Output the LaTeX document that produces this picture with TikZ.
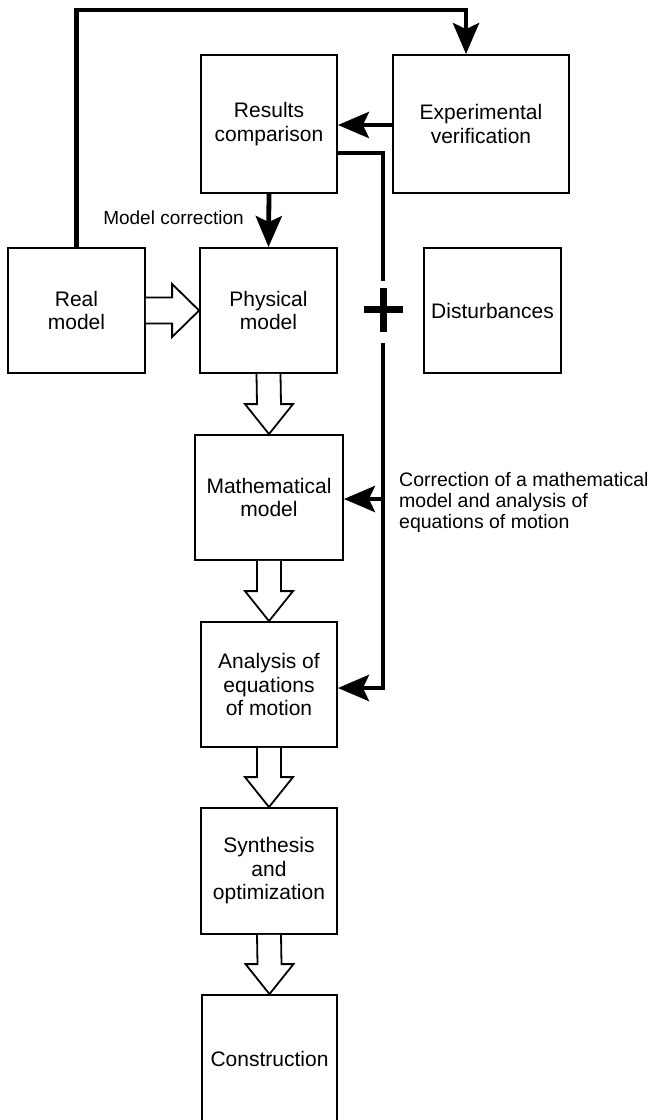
\documentclass[tikz,border=0pt]{standalone}
\usepackage{fontspec}
\setmainfont{Liberation Sans}
\usetikzlibrary{arrows.meta,calc}
\newcommand\boxfont{\fontsize{21}{23.5}\selectfont}
\newcommand\hollowdown[2]{\draw[hollow] ($(#1.south)+(-12,0)$) -- ($(#2.north)+(-12,-30)$) -- ($(#2.north)+(-24,-30)$) -- (#2.north) -- ($(#2.north)+(24,-30)$) -- ($(#2.north)+(12,-30)$) -- ($(#1.south)+(12,0)$);}
\newcommand\hollowright[2]{\draw[hollow] ($(#1.east)+(0,-13)$) -- ($(#2.west)+(-27,-13)$) -- ($(#2.west)+(-27,-26.5)$) -- (#2.west) -- ($(#2.west)+(-27,26.5)$) -- ($(#2.west)+(-27,13)$) -- ($(#1.east)+(0,13)$);}
\begin{document}
\begin{tikzpicture}[x=1pt,y=-1pt,
  box/.style={draw, line width=1.8pt, align=center, font=\boxfont, inner sep=0pt},
  conn/.style={line width=4.8pt, line join=miter},
  tip/.style={-{Stealth[length=31pt,width=26pt,inset=6pt]}},
  hollow/.style={draw, line width=1.8pt, fill=white, line join=miter},
  lbl/.style={font=\fontsize{19.5}{21}\selectfont, align=left, inner sep=0pt}]
\useasboundingbox (0,0) rectangle (651,1120);
% boxes
\node[box, minimum width=136pt, minimum height=138pt] (res) at (269,124) {Results\\comparison};
\node[box, minimum width=176pt, minimum height=138pt] (exp) at (481,124) {Experimental\\verification};
\node[box, minimum width=137pt, minimum height=125pt] (real) at (76.5,310.5) {Real\\model};
\node[box, minimum width=137pt, minimum height=125pt] (phys) at (268.5,310.5) {Physical\\model};
\node[box, minimum width=137pt, minimum height=125pt] (dist) at (492.5,310.5) {Disturbances};
\node[box, minimum width=148pt, minimum height=125pt] (math) at (269,497.5) {Mathematical\\model};
\node[box, minimum width=136pt, minimum height=125pt] (ana) at (269,684.5) {Analysis of\\equations\\of motion};
\node[box, minimum width=136pt, minimum height=126pt] (syn) at (269,871) {Synthesis\\and\\optimization};
\node[box, minimum width=135pt, minimum height=128pt] (con) at (269.5,1059) {Construction};
% labels
\node[lbl, font=\fontsize{19}{21}\selectfont] (mc) at (173.5,218) {Model correction};
\node[lbl, anchor=west] (cm) at (399,502) {Correction of a mathematical\\model and analysis of\\equations of motion};
% coordinates
\coordinate (tc) at (466,10);
\coordinate (ea) at (0,125);
\coordinate (r1) at (383,153);
\coordinate (gapA) at (383,281);
\coordinate (gapB) at (383,343);
\coordinate (b1) at (383,499);
\coordinate (b2) at (383,688);
% connectors
\draw[conn,tip] (real.north) |- (tc) -- (tc |- exp.north);
\draw[conn,tip] (exp.west |- ea) -- (res.east |- ea);
\draw[conn] (res.east |- r1) -- (r1) -- (gapA);
\draw[conn,tip] (gapB) |- (ana.east |- b2);
\draw[conn,tip] (b1) -- (math.east |- b1);
\draw[conn,tip] (res.south) -- (phys.north);
% plus sign
\draw[line width=7.5pt] (364,309.5) -- (403,309.5);
\draw[line width=7pt] (383,288) -- (383,332);
% hollow arrows
\hollowright{real}{phys}
\hollowdown{phys}{math}
\hollowdown{math}{ana}
\hollowdown{ana}{syn}
\hollowdown{syn}{con}
\end{tikzpicture}
\end{document}
